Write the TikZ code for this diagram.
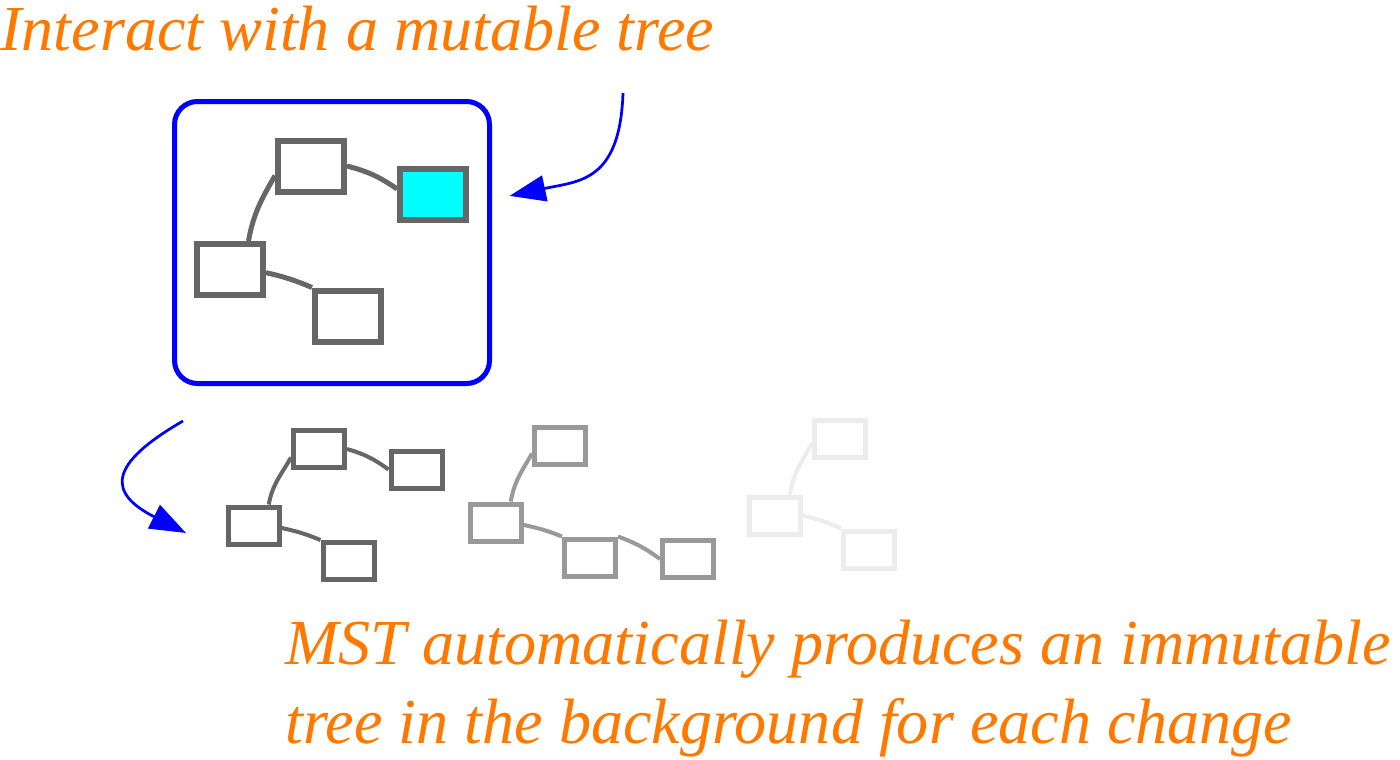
\documentclass[tikz,border=0pt]{standalone}
\usepackage{fontspec}
\setmainfont{Liberation Serif}
\usetikzlibrary{arrows.meta}
\definecolor{notecolor}{RGB}{255,120,0}
\definecolor{treegray}{RGB}{102,102,102}
\definecolor{oldgray}{RGB}{153,153,153}
\definecolor{oldestgray}{RGB}{236,236,236}
\definecolor{selcyan}{RGB}{0,255,255}

\begin{document}
\begin{tikzpicture}[
  mnode/.style={rectangle, draw=treegray, line width=0.12cm, minimum width=1.32cm,
                minimum height=1.02cm, inner sep=0pt},
  inode/.style={rectangle, draw=#1, line width=0.1cm, minimum width=1.02cm,
                minimum height=0.74cm, inner sep=0pt},
  medge/.style={treegray, line width=0.1cm},
  iedge/.style={#1, line width=0.08cm},
  arrow/.style={-{Triangle[length=0.72cm, width=0.52cm]}, blue, line width=0.055cm},
  note/.style={text=notecolor, inner sep=0pt, align=left,
               font=\fontsize{36.5pt}{44.4pt}\selectfont\itshape}
]
\useasboundingbox (0,0) rectangle (28,-15.18);

%% ---- mutable tree (top) ----
\node[draw=blue, line width=0.1cm, rounded corners=0.46cm, minimum width=6.3cm,
      minimum height=5.64cm] at (6.64,-4.85) (mutable) {};
\node[mnode]                at (6.22,-3.32) (mtop)  {};
\node[mnode, fill=selcyan]  at (8.66,-3.88) (mleaf) {};
\node[mnode]                at (4.60,-5.39) (mleft) {};
\node[mnode]                at (6.96,-6.32) (mlow)  {};

\draw[medge] (mtop.east) to[bend left=10] (mleaf.172);
\draw[medge] (mtop.195)  to[out=-120, in=80] (mleft.57);
\draw[medge] (mleft.355) to[bend left=5] (mlow.north west);

%% ---- immutable snapshots (bottom) ----
\node[inode=treegray] at (6.38,-8.98)  (i1top)   {};
\node[inode=treegray] at (8.33,-9.39)  (i1right) {};
\node[inode=treegray] at (5.07,-10.51) (i1left)  {};
\node[inode=treegray] at (6.97,-11.22) (i1low)   {};
\draw[iedge=treegray] (i1top.east) to[bend left=10] (i1right.west);
\draw[iedge=treegray] (i1top.197)  to[out=-120, in=80] (i1left.54);
\draw[iedge=treegray] (i1left.355) to[bend left=5] (i1low.north west);

\node[inode=oldgray] at (11.20,-8.92)  (i2top)  {};
\node[inode=oldgray] at (9.91,-10.45)  (i2left) {};
\node[inode=oldgray] at (11.80,-11.15) (i2low)  {};
\node[inode=oldgray] at (13.76,-11.18) (i2far)  {};
\draw[iedge=oldgray] (i2top.195)  to[out=-120, in=80] (i2left.54);
\draw[iedge=oldgray] (i2left.355) to[bend left=5] (i2low.north west);
\draw[iedge=oldgray] (i2low.north east) to[bend left=8] (i2far.west);

\node[inode=oldestgray] at (16.80,-8.77)  (i3top)  {};
\node[inode=oldestgray] at (15.50,-10.31) (i3left) {};
\node[inode=oldestgray] at (17.38,-10.99) (i3low)  {};
\draw[iedge=oldestgray] (i3top.190)  to[out=-120, in=80] (i3left.55);
\draw[iedge=oldestgray] (i3left.east) to[bend left=5] (i3low.north west);

%% ---- arrows ----
\coordinate (notetop) at (12.46,-1.86);
\draw[arrow, shorten >=0.36cm] (notetop) to[out=-92, in=12, looseness=1.35] (mutable.15);
\coordinate (snapstart) at (3.66,-8.42);
\coordinate (snapend)   at (3.72,-10.66);
\draw[arrow] (snapstart) to[out=210, in=153, looseness=2] (snapend);

%% ---- labels ----
\node[note, anchor=base west] at (0,-1.0) (mutablenote) {Interact with a mutable tree};
\node[note, anchor=base west] at (5.70,-14.86) (immutablenote)
  {MST automatically produces an immutable\\tree in the background for each change};
\end{tikzpicture}
\end{document}
